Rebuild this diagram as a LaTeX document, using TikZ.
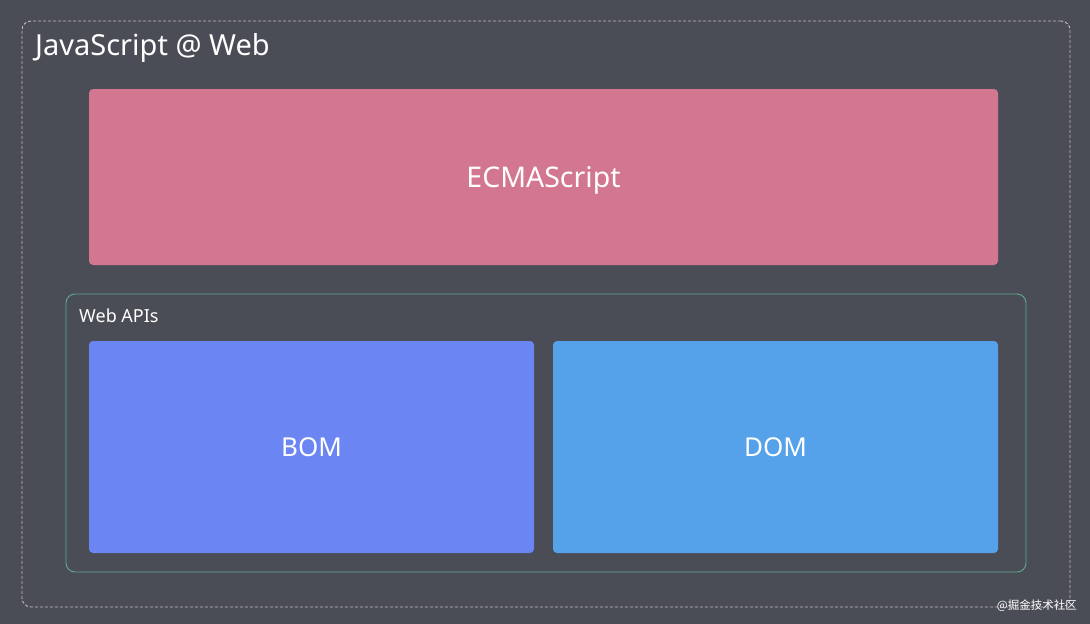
\documentclass[tikz,border=0pt]{standalone}
\usepackage{fontspec}
\setmainfont{Noto Sans}
\newfontfamily\cjk{Noto Sans CJK SC}
\usetikzlibrary{positioning, backgrounds}
\definecolor{bgdark}{HTML}{4A4D55}
\definecolor{ecmapink}{HTML}{D2778F}
\definecolor{bomblue}{HTML}{6B86F2}
\definecolor{domblue}{HTML}{55A2EA}
\definecolor{apigreen}{HTML}{5FA88E}
\definecolor{outerline}{HTML}{C9B8C2}

\begin{document}
\begin{tikzpicture}[x=1pt, y=-1pt,
    apibox/.style={anchor=north west, inner sep=0pt, outer sep=0pt,
      rounded corners=4pt, text=white, font=\fontsize{26}{30}\selectfont},
    framebox/.style={anchor=north west, inner sep=0pt, outer sep=0pt,
      rounded corners=9pt, line width=0.9pt}]
  \fill[bgdark] (0,0) rectangle (1090,624);
  \useasboundingbox (0,0) rectangle (1090,624);
  % outer frame
  \node (web) [framebox, draw=outerline, dash pattern=on 3pt off 2pt,
    minimum width=1048pt, minimum height=586pt] at (22,21) {};
  \node (jstitle) [anchor=west, text=white, font=\fontsize{29}{34}\selectfont,
    inner sep=0pt] at (35,48) {JavaScript @ Web};
  % ECMAScript
  \node (ecma) [apibox, fill=ecmapink, minimum width=909pt,
    minimum height=176pt, text depth=0pt,
    font=\fontsize{28.5}{34}\selectfont] at (89,89) {ECMAScript};
  % Web APIs
  \node (webapis) [framebox, draw=apigreen, minimum width=960pt,
    minimum height=278pt] at (66,294) {};
  \node (apititle) [anchor=west, text=white, font=\fontsize{18}{22}\selectfont,
    inner sep=0pt] at (79,316) {Web APIs};
  \node (bom) [apibox, fill=bomblue, minimum width=445pt,
    minimum height=212pt] at (89,341) {BOM};
  \node (dom) [apibox, fill=domblue, minimum width=445pt,
    minimum height=212pt] at (553,341) {DOM};
  \node (mark) [anchor=east, text=white, font=\cjk\fontsize{11.5}{14}\selectfont,
    inner sep=0pt] at (1077,606) {@掘金技术社区};
\end{tikzpicture}
\end{document}
